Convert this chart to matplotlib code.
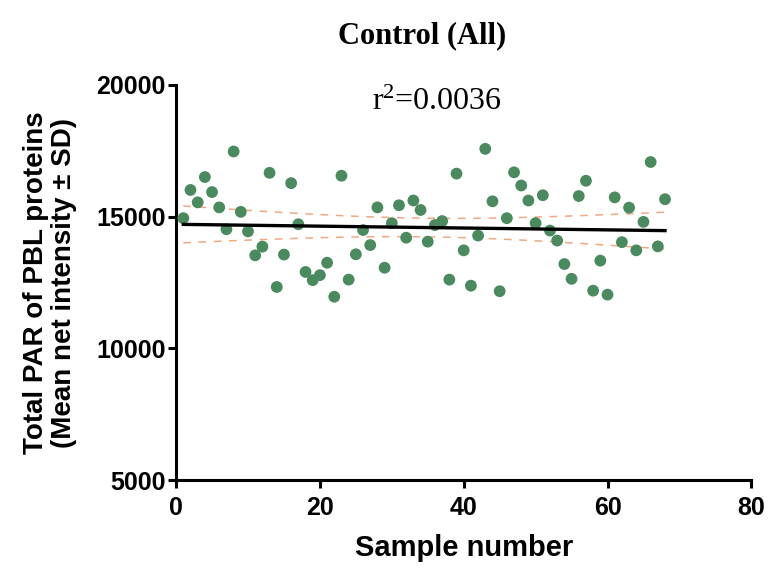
import matplotlib
matplotlib.use("Agg")
import matplotlib.pyplot as plt
import numpy as np

# data
amostras = np.arange(1, 69)
par_total = np.array([
    14940, 16010, 15540, 16500, 15930, 15350, 14520, 17470, 15180, 14440,
    13530, 13860, 16660, 12330, 13560, 16270, 14710, 12900, 12590, 12780,
    13250, 11960, 16550, 12610, 13570, 14490, 13920, 15350, 13060, 14750,
    15430, 14200, 15610, 15250, 14050, 14680, 14830, 12610, 16630, 13720,
    12380, 14280, 17570, 15580, 12170, 14940, 16680, 16180, 15610, 14750,
    15810, 14470, 14090, 13200, 12640, 15780, 16360, 12190, 13330, 12040,
    15730, 14030, 15340, 13720, 14800, 17070, 13870, 15660,
])
texto_r2 = "r$^{2}$=0.0036"

verde = "#4b8a5f"
laranja = "#f0a883"

plt.rcParams["mathtext.fontset"] = "custom"
plt.rcParams["mathtext.rm"] = "Liberation Serif"
plt.rcParams["mathtext.it"] = "Liberation Serif"
plt.rcParams["mathtext.default"] = "rm"

# ajuste linear e banda de confianca 95%
coef = np.polyfit(amostras, par_total, 1)
xs = np.linspace(amostras.min(), amostras.max(), 100)
ys = np.polyval(coef, xs)
n = len(amostras)
resid = par_total - np.polyval(coef, amostras)
s = np.sqrt(np.sum(resid ** 2) / (n - 2))
sxx = np.sum((amostras - amostras.mean()) ** 2)
se = s * np.sqrt(1 / n + (xs - amostras.mean()) ** 2 / sxx)
t = 1.997

fig = plt.figure(figsize=(7.69, 5.69), dpi=100)
ax = fig.add_axes([0.229, 0.156, 0.748, 0.695])

ax.scatter(amostras, par_total, s=72, color=verde, edgecolors="none", zorder=3)
ax.plot(xs, ys, color="black", lw=2.4, zorder=4)
ax.plot(xs, ys + t * se, color=laranja, lw=1.1, ls=(0, (5, 5)), zorder=2)
ax.plot(xs, ys - t * se, color=laranja, lw=1.1, ls=(0, (5, 5)), zorder=2)

ax.set_xlim(0, 80)
ax.set_ylim(5000, 20000)
ax.set_xticks([0, 20, 40, 60, 80])
ax.set_yticks([5000, 10000, 15000, 20000])

for lado in ["top", "right"]:
    ax.spines[lado].set_visible(False)
for lado in ["left", "bottom"]:
    ax.spines[lado].set_linewidth(2.2)
ax.tick_params(width=2.2, length=5.5, labelsize=18, direction="out")
ax.tick_params(axis="x", pad=6)
ax.tick_params(axis="y", pad=2)
for rotulo in ax.get_xticklabels() + ax.get_yticklabels():
    rotulo.set_fontweight("bold")
    rotulo.set_family("Liberation Sans")

ax.set_xlabel("Sample number", fontsize=21, fontweight="bold",
              family="Liberation Sans", labelpad=10)
ax.set_ylabel("Total PAR of PBL proteins\n(Mean net intensity \u00b1 SD)",
              fontsize=20, fontweight="bold", family="Liberation Sans",
              labelpad=14, linespacing=1.1)

ax.text(36.3, 19330, texto_r2, ha="center", va="center", fontsize=23,
        family="Liberation Serif")
fig.text(0.549, 0.937, "Control (All)", ha="center", va="center",
         fontsize=22, fontweight="bold", family="Liberation Serif")

fig.savefig("out.png", dpi=100)
